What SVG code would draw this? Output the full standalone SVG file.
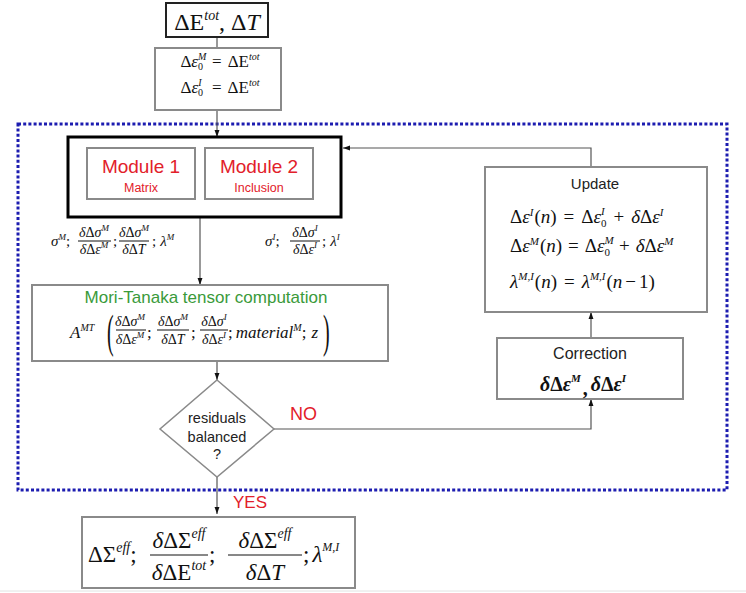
<svg xmlns="http://www.w3.org/2000/svg" width="746" height="593" viewBox="0 0 746 593">
<defs>
<marker id="ah" viewBox="0 0 10 10" refX="10" refY="5" markerWidth="7" markerHeight="7" orient="auto" markerUnits="userSpaceOnUse"><path d="M0,1.5 L10,5 L0,8.5 z" fill="#111"/></marker>
</defs>
<style>
.t{font-family:"Liberation Serif","Times New Roman",serif;fill:#111}
.it{font-style:italic}
.up{font-style:normal}
.s{font-family:"Liberation Sans",Arial,sans-serif;fill:#222}
.box{fill:#fff;stroke:#8a8a8a;stroke-width:2}
.ln{stroke:#555;stroke-width:1.2;fill:none}
.bar{stroke:#111;stroke-width:1}
.red{fill:#e2202a}
</style>
<rect width="746" height="593" fill="#fff"/>
<line x1="0" y1="591" x2="746" y2="591" stroke="#e2e2e2" stroke-width="1"/>
<rect id="loop" x="18" y="124" width="709" height="366" fill="none" stroke="#1c1cb0" stroke-width="3" stroke-dasharray="3 2.2"/>

<g id="connectors">
<line class="ln" x1="217" y1="37" x2="217" y2="48"/>
<line class="ln" x1="217" y1="110" x2="217" y2="137" marker-end="url(#ah)"/>
<line class="ln" x1="200" y1="218" x2="200" y2="285" marker-end="url(#ah)"/>
<line class="ln" x1="217" y1="362" x2="217" y2="380" marker-end="url(#ah)"/>
<line class="ln" x1="217" y1="477" x2="217" y2="514" marker-end="url(#ah)"/>
<polyline class="ln" points="274,429 591,429 591,399" marker-end="url(#ah)"/>
<line class="ln" x1="591" y1="338" x2="591" y2="312" marker-end="url(#ah)"/>
<polyline class="ln" points="591,167 591,148 343,148" marker-end="url(#ah)"/>
<text class="s red" x="290" y="420" font-size="18">NO</text>
<text class="s red" x="233" y="508" font-size="17">YES</text>
</g>

<g id="n_input">
<rect x="166" y="3" width="102" height="34" fill="#fff" stroke="#222" stroke-width="2"/>
<text class="t" x="217" y="30" font-size="24" text-anchor="middle">ΔE<tspan class="it" font-size="14" dy="-10">tot</tspan><tspan dy="10">, Δ</tspan><tspan class="it">T</tspan></text>
</g>

<g id="n_init">
<rect class="box" x="155" y="48" width="126" height="62"/>
<text class="t" x="220" y="67" font-size="17" text-anchor="middle">Δ<tspan class="it">ε</tspan><tspan class="it" font-size="10" dy="-7">M</tspan><tspan font-size="10" dx="-8.3" dy="10">0</tspan><tspan dy="-3" dx="9">=</tspan><tspan dx="6">ΔE</tspan><tspan class="it" font-size="10" dy="-7">tot</tspan></text>
<text class="t" x="220" y="93" font-size="17" text-anchor="middle">Δ<tspan class="it">ε</tspan><tspan class="it" font-size="10" dy="-7">I</tspan><tspan font-size="10" dx="-3.5" dy="10">0</tspan><tspan dy="-3" dx="9">=</tspan><tspan dx="6">ΔE</tspan><tspan class="it" font-size="10" dy="-7">tot</tspan></text>
</g>

<g id="n_modules">
<rect x="68" y="137" width="273" height="80" fill="#fff" stroke="#000" stroke-width="3"/>
<g id="n_module1">
<rect class="box" x="87" y="148" width="108" height="51"/>
<text class="s red" x="141" y="173" font-size="19" text-anchor="middle">Module 1</text>
<text class="s red" x="141" y="192" font-size="12.5" text-anchor="middle">Matrix</text>
</g>
<g id="n_module2">
<rect class="box" x="205" y="148" width="108" height="51"/>
<text class="s red" x="259" y="173" font-size="19" text-anchor="middle">Module 2</text>
<text class="s red" x="259" y="192" font-size="12.5" text-anchor="middle">Inclusion</text>
</g>
</g>

<g id="lbl_matrix">
<text class="t it" x="51" y="246" font-size="15">σ<tspan font-size="9" dy="-6">M</tspan><tspan class="up" dy="6">;</tspan></text>
<text class="t" x="94" y="237" font-size="14" text-anchor="middle"><tspan class="it">δ</tspan>Δ<tspan class="it">σ</tspan><tspan class="it" font-size="9" dy="-6">M</tspan></text>
<line class="bar" x1="78" y1="241" x2="111" y2="241"/>
<text class="t" x="94" y="254" font-size="14" text-anchor="middle"><tspan class="it">δ</tspan>Δ<tspan class="it">ε</tspan><tspan class="it" font-size="9" dy="-6">M</tspan></text>
<text class="t" x="113" y="246" font-size="15">;</text>
<text class="t" x="134" y="237" font-size="14" text-anchor="middle"><tspan class="it">δ</tspan>Δ<tspan class="it">σ</tspan><tspan class="it" font-size="9" dy="-6">M</tspan></text>
<line class="bar" x1="119" y1="241" x2="149" y2="241"/>
<text class="t" x="134" y="254" font-size="14" text-anchor="middle"><tspan class="it">δ</tspan>Δ<tspan class="it">T</tspan></text>
<text class="t" x="152" y="246" font-size="15">;<tspan class="it" dx="4">λ</tspan><tspan class="it" font-size="9" dy="-6">M</tspan></text>
</g>

<g id="lbl_inclusion">
<text class="t it" x="265" y="246" font-size="15">σ<tspan font-size="9" dy="-6">I</tspan><tspan class="up" dy="6">;</tspan></text>
<text class="t" x="305" y="237" font-size="14" text-anchor="middle"><tspan class="it">δ</tspan>Δ<tspan class="it">σ</tspan><tspan class="it" font-size="9" dy="-6">I</tspan></text>
<line class="bar" x1="290" y1="241" x2="320" y2="241"/>
<text class="t" x="305" y="254" font-size="14" text-anchor="middle"><tspan class="it">δ</tspan>Δ<tspan class="it">ε</tspan><tspan class="it" font-size="9" dy="-6">I</tspan></text>
<text class="t" x="322" y="246" font-size="15">;<tspan class="it" dx="4">λ</tspan><tspan class="it" font-size="9" dy="-6">I</tspan></text>
</g>

<g id="n_moritanaka">
<rect class="box" x="32" y="285" width="356" height="76"/>
<text x="206" y="303" font-size="17" text-anchor="middle" style="font-family:'Liberation Sans',Arial,sans-serif;fill:#3a9a3a">Mori-Tanaka tensor computation</text>
<text class="t it" x="70" y="338" font-size="17">A<tspan font-size="10" dy="-7">MT</tspan></text>
<text class="t" font-size="20" transform="translate(107,347) scale(1,2.3)">(</text>
<text class="t" x="130" y="326" font-size="14" text-anchor="middle"><tspan class="it">δ</tspan>Δ<tspan class="it">σ</tspan><tspan class="it" font-size="9" dy="-6">M</tspan></text>
<line class="bar" x1="116" y1="330" x2="146" y2="330"/>
<text class="t" x="130" y="344" font-size="14" text-anchor="middle"><tspan class="it">δ</tspan>Δ<tspan class="it">ε</tspan><tspan class="it" font-size="9" dy="-6">M</tspan></text>
<text class="t" x="147" y="338" font-size="17">;</text>
<text class="t" x="173" y="326" font-size="14" text-anchor="middle"><tspan class="it">δ</tspan>Δ<tspan class="it">σ</tspan><tspan class="it" font-size="9" dy="-6">M</tspan></text>
<line class="bar" x1="157" y1="330" x2="189" y2="330"/>
<text class="t" x="173" y="344" font-size="14" text-anchor="middle"><tspan class="it">δ</tspan>Δ<tspan class="it">T</tspan></text>
<text class="t" x="191" y="338" font-size="17">;</text>
<text class="t" x="214" y="326" font-size="14" text-anchor="middle"><tspan class="it">δ</tspan>Δ<tspan class="it">σ</tspan><tspan class="it" font-size="9" dy="-6">I</tspan></text>
<line class="bar" x1="200" y1="330" x2="228" y2="330"/>
<text class="t" x="214" y="344" font-size="14" text-anchor="middle"><tspan class="it">δ</tspan>Δ<tspan class="it">ε</tspan><tspan class="it" font-size="9" dy="-6">I</tspan></text>
<text class="t" x="228" y="338" font-size="17">;<tspan class="it" dx="3">material</tspan><tspan class="it" font-size="10" dy="-7">M</tspan><tspan dy="7">;</tspan><tspan class="it" dx="5">z</tspan></text>
<text class="t" font-size="20" transform="translate(323,347) scale(1,2.3)">)</text>
</g>

<g id="n_check">
<polygon points="217,380 274,429 217,477 160,429" fill="#fff" stroke="#8a8a8a" stroke-width="1.5"/>
<text class="s" x="217" y="423" font-size="14.5" text-anchor="middle">residuals</text>
<text class="s" x="217" y="442" font-size="14.5" text-anchor="middle">balanced</text>
<text class="s" x="217" y="459" font-size="14.5" text-anchor="middle">?</text>
</g>

<g id="n_correction">
<rect class="box" x="497" y="338" width="186" height="61"/>
<text class="s" x="590" y="359" font-size="16" text-anchor="middle">Correction</text>
<text class="t" x="583" y="391" font-size="20" font-weight="bold" text-anchor="middle"><tspan class="it">δ</tspan>Δ<tspan class="it">ε</tspan><tspan class="it" font-size="11" dy="-9">M</tspan><tspan dy="13" dx="2">,</tspan><tspan class="it" dy="-4" dx="3">δ</tspan>Δ<tspan class="it">ε</tspan><tspan class="it" font-size="11" dy="-9">I</tspan></text>
</g>

<g id="n_update">
<rect class="box" x="485" y="167" width="222" height="145"/>
<text class="s" x="595" y="189" font-size="15" text-anchor="middle">Update</text>
<text class="t" x="510" y="223" font-size="19">Δ<tspan class="it">ε</tspan><tspan class="it" font-size="11" dy="-7">I</tspan><tspan dy="7" dx="1">(</tspan><tspan class="it">n</tspan>)<tspan dx="7">=</tspan><tspan dx="7">Δ</tspan><tspan class="it">ε</tspan><tspan class="it" font-size="11" dy="-8">I</tspan><tspan font-size="11" dx="-3.7" dy="12">0</tspan><tspan dy="-4" dx="7">+</tspan><tspan class="it" dx="7">δ</tspan>Δ<tspan class="it">ε</tspan><tspan class="it" font-size="11" dy="-7">I</tspan></text>
<text class="t" x="510" y="252" font-size="19">Δ<tspan class="it">ε</tspan><tspan class="it" font-size="11" dy="-7">M</tspan><tspan dy="7" dx="1">(</tspan><tspan class="it">n</tspan>)<tspan dx="6">=</tspan><tspan dx="6">Δ</tspan><tspan class="it">ε</tspan><tspan class="it" font-size="11" dy="-8">M</tspan><tspan font-size="11" dx="-9.2" dy="12">0</tspan><tspan dy="-4" dx="9">+</tspan><tspan class="it" dx="6">δ</tspan>Δ<tspan class="it">ε</tspan><tspan class="it" font-size="11" dy="-7">M</tspan></text>
<text class="t" x="510" y="288" font-size="19"><tspan class="it">λ</tspan><tspan class="it" font-size="11" dy="-8">M,I</tspan><tspan dy="8" dx="1">(</tspan><tspan class="it">n</tspan>)<tspan dx="7">=</tspan><tspan class="it" dx="7">λ</tspan><tspan class="it" font-size="11" dy="-8">M,I</tspan><tspan dy="8" dx="1">(</tspan><tspan class="it">n</tspan><tspan dx="3">−</tspan><tspan dx="3">1)</tspan></text>
</g>

<g id="n_result">
<rect class="box" x="82" y="517" width="273" height="71"/>
<text class="t" x="88" y="562" font-size="23">ΔΣ<tspan class="it" font-size="14" dy="-10">eff</tspan><tspan dy="10">;</tspan></text>
<text class="t" x="179" y="548" font-size="23" text-anchor="middle"><tspan class="it">δ</tspan>ΔΣ<tspan class="it" font-size="14" dy="-10">eff</tspan></text>
<line class="bar" x1="150" y1="555" x2="208" y2="555"/>
<text class="t" x="179" y="580" font-size="23" text-anchor="middle"><tspan class="it">δ</tspan>ΔE<tspan class="it" font-size="14" dy="-10">tot</tspan></text>
<text class="t" x="209" y="562" font-size="23">;</text>
<text class="t" x="265" y="548" font-size="23" text-anchor="middle"><tspan class="it">δ</tspan>ΔΣ<tspan class="it" font-size="14" dy="-10">eff</tspan></text>
<line class="bar" x1="228" y1="555" x2="302" y2="555"/>
<text class="t" x="265" y="580" font-size="23" text-anchor="middle"><tspan class="it">δ</tspan>Δ<tspan class="it">T</tspan></text>
<text class="t" x="303" y="562" font-size="23">;<tspan class="it" dx="3">λ</tspan><tspan class="it" font-size="12" dy="-11">M,I</tspan></text>
</g>
</svg>
